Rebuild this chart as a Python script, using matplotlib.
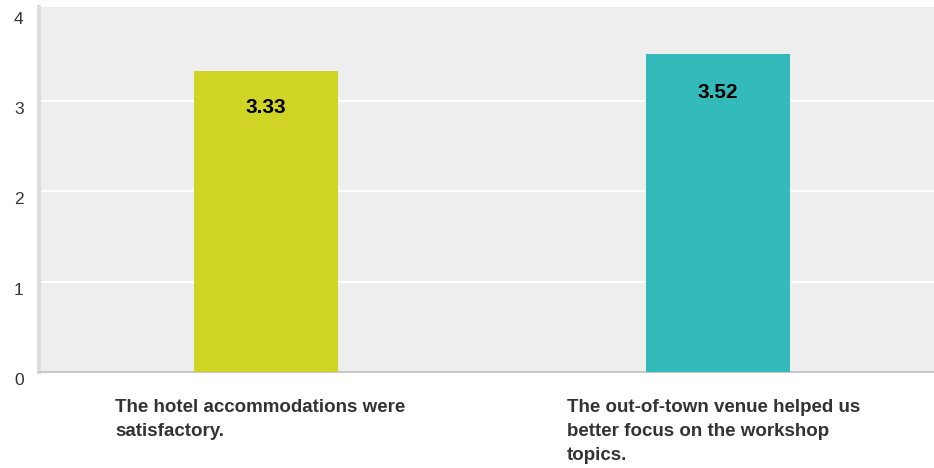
import matplotlib.pyplot as plt
from matplotlib.transforms import ScaledTranslation

plt.rcParams['font.family'] = ['Liberation Sans', 'DejaVu Sans']

questions = ["The hotel accommodations were\nsatisfactory.",
             "The out-of-town venue helped us\nbetter focus on the workshop\ntopics."]
scores = [3.33, 3.52]
bar_colors = ['#cfd425', '#33bbbc']
yticks = [0, 1, 2, 3, 4]

fig = plt.figure(figsize=(9.34, 4.68), dpi=100)
# axes box in pixels: left 39, bottom 372, top 7
ax = fig.add_axes([39/934, (468-372)/468, (934-39)/934, (372-7)/468])
ax.set_facecolor('#eeeeee')

x = list(range(len(scores)))
bars = ax.bar(x, scores, width=0.319, color=bar_colors, zorder=3)

ax.set_xlim(-0.503, 1.4795)
ax.set_ylim(0, 4.04)

for v in yticks[1:-1]:
    ax.axhline(v, color='white', lw=1.6, zorder=1)

for s in ['top', 'right']:
    ax.spines[s].set_visible(False)
ax.spines['left'].set_color('#dcdcdc')
ax.spines['left'].set_linewidth(2.9)
ax.spines['bottom'].set_color('#c8c8c8')
ax.spines['bottom'].set_linewidth(1.5)

ax.set_xticks([])
ax.set_yticks(yticks)
ax.set_yticklabels([str(t) for t in yticks], fontsize=12.5, color='#333333')
ax.tick_params(axis='y', length=0, pad=11)
shift = ScaledTranslation(0, -7/100, fig.dpi_scale_trans)
for lab in ax.get_yticklabels():
    lab.set_transform(lab.get_transform() + shift)

# value labels inside the bars, a bit below the top
for xi, v in zip(x, scores):
    ax.annotate(f"{v:.2f}", xy=(xi, v * 0.88), ha='center', va='center',
                fontsize=15, fontweight='bold', color='black', zorder=4)

# question text under each bar, left aligned
for xi, q in zip(x, questions):
    ax.annotate(q, xy=(xi - 0.334, 0), xycoords=('data', 'axes fraction'),
                xytext=(0, -27), textcoords='offset pixels',
                ha='left', va='top', fontsize=13.5, fontweight='bold',
                color='#333333', linespacing=1.52)

fig.savefig('out.png', dpi=100)
